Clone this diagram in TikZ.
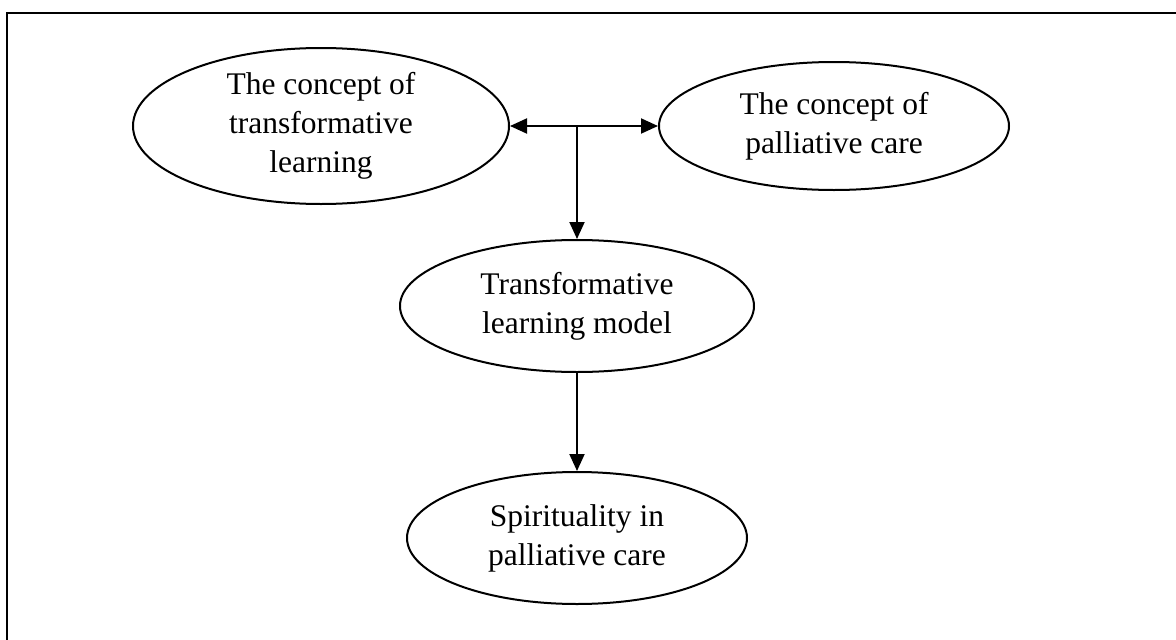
\documentclass[tikz,border=0pt]{standalone}
\usepackage{fontspec}
\setmainfont{Liberation Serif}
\usetikzlibrary{shapes.geometric,arrows.meta,positioning}

\begin{document}
\begin{tikzpicture}[x=1pt, y=-1pt,
    concept/.style={ellipse, draw=black, line width=2pt, inner sep=0pt, align=center,
        font=\fontsize{31.5}{39}\selectfont},
    link/.style={line width=2pt, -{Triangle[length=17pt,width=15pt]}},
    dlink/.style={line width=2pt, {Triangle[length=17pt,width=15pt]}-{Triangle[length=17pt,width=15pt]}}]
        \useasboundingbox (0,0) rectangle (1176,640);
        % Frame (only top and left edges fall inside the page)
        \draw[line width=2pt] (7,660) -- (7,13) -- (1190,13);

        % Concepts
        \node[concept, minimum width=376pt, minimum height=156pt] (learning) at (321,126) {The concept of\\transformative\\learning};
        \node[concept, minimum width=350pt, minimum height=128pt] (palliative) at (834,126) {The concept of\\palliative care};
        \node[concept, minimum width=354pt, minimum height=132pt] (model) at (577,306) {Transformative\\learning model};
        \node[concept, minimum width=340pt, minimum height=132pt] (spirit) at (577,538) {Spirituality in\\palliative care};

        % Connectors
        \coordinate (split) at (model.north |- learning.east);
        \draw[dlink] (learning.east) -- (palliative.west);
        \draw[link] (split) -- (model.north);
        \draw[link] (model.south) -- (spirit.north);
    \end{tikzpicture}
\end{document}
